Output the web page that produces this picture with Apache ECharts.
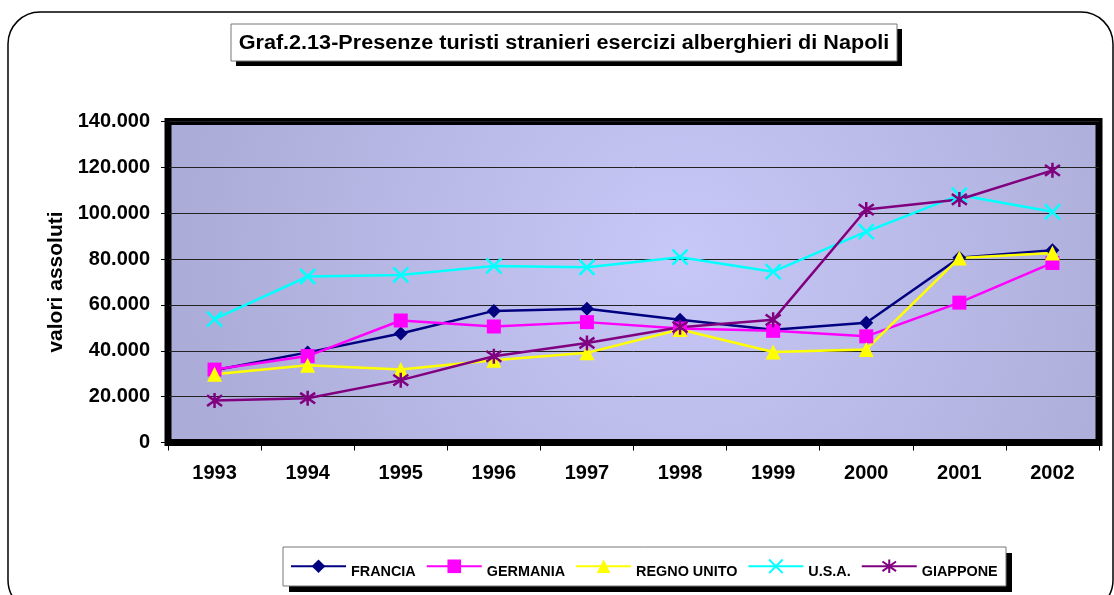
<!DOCTYPE html>
<html>
<head>
<meta charset="utf-8">
<title>Graf.2.13</title>
<script src="https://cdn.jsdelivr.net/npm/echarts@6/dist/echarts.min.js"></script>
<style>
  html, body { margin: 0; padding: 0; background: #fff; }
  #chart { width: 1114px; height: 595px; }
</style>
</head>
<body>
<div id="chart"></div>
<script>
// anni
const years = ['1993', '1994', '1995', '1996', '1997', '1998', '1999', '2000', '2001', '2002'];

// presenze per paese
const francia = [31500, 39300, 47500, 57400, 58300, 53500, 49200, 52200, 80600, 83800];
const germania = [31800, 37700, 53200, 50600, 52500, 49700, 48700, 46300, 61000, 78300];
const regnoUnito = [29800, 33700, 31800, 35900, 39100, 49300, 39500, 40600, 80500, 82700];
const usa = [53800, 72400, 73100, 77000, 76400, 80800, 74500, 92000, 107900, 100600];
const giappone = [18300, 19300, 27200, 37600, 43400, 50300, 53500, 101600, 106000, 118700];

const yTicks = [0, 20000, 40000, 60000, 80000, 100000, 120000, 140000];

const FONT = 'Liberation Sans, Arial, sans-serif';

// simboli: X e asterisco disegnati a tratto
const symX = 'path://M0,0 L14,14 M14,0 L0,14';
const symStar = 'path://M7,0 L7,14 M1,2 L13,12 M13,2 L1,12';

function makeSeries(name, data, color, symbol, size, stroke) {
  return {
    name: name,
    type: 'line',
    data: data,
    symbol: symbol,
    symbolSize: size,
    showAllSymbol: true,
    lineStyle: { color: color, width: 2.5 },
    itemStyle: {
      color: color,
      borderColor: color,
      borderWidth: stroke ? 2.5 : 0
    },
    emphasis: { disabled: true },
    animation: false
  };
}

const chart = echarts.init(document.getElementById('chart'));

chart.setOption({
  backgroundColor: '#ffffff',
  animation: false,
  graphic: [
    // cornice esterna arrotondata
    {
      type: 'rect', z: 100,
      shape: { x: 8, y: 12, width: 1105, height: 600, r: 32 },
      style: { fill: 'none', stroke: '#000', lineWidth: 1.5 }
    },
    // box titolo con ombra
    { type: 'rect', z: 1, shape: { x: 236, y: 29, width: 666, height: 37 }, style: { fill: '#000' } },
    { type: 'rect', z: 2, shape: { x: 231, y: 24, width: 666, height: 37 }, style: { fill: '#fff', stroke: '#777', lineWidth: 1 } },
    // titolo
    {
      type: 'text', z: 3,
      x: 564, y: 43,
      scaleX: 1.08,
      style: {
        text: 'Graf.2.13-Presenze turisti stranieri esercizi alberghieri di Napoli',
        fill: '#000',
        font: 'bold 20px ' + FONT,
        align: 'center',
        verticalAlign: 'middle'
      }
    },
    // box legenda con ombra
    { type: 'rect', z: 1, shape: { x: 289, y: 553, width: 723, height: 39 }, style: { fill: '#000' } },
    { type: 'rect', z: 2, shape: { x: 283, y: 547, width: 723, height: 39 }, style: { fill: '#fff', stroke: '#777', lineWidth: 1 } }
  ],
  legend: {
    left: 290,
    top: 558.5,
    padding: 0,
    itemWidth: 55,
    itemHeight: 17,
    itemGap: 10,
    selectedMode: false,
    formatter: '{t|{name}}',
    textStyle: {
      color: '#000', fontSize: 14.4, fontWeight: 'bold', fontFamily: FONT,
      rich: {
        t: { color: '#000', fontSize: 14.4, fontWeight: 'bold', fontFamily: FONT, padding: [12, 0, 0, 0] }
      }
    },
    data: ['FRANCIA', 'GERMANIA', 'REGNO UNITO', 'U.S.A.', 'GIAPPONE']
  },
  grid: {
    left: 168,
    right: 15,
    top: 121.5,
    bottom: 152.5,
    show: true,
    borderColor: '#000',
    borderWidth: 7,
    backgroundColor: {
      type: 'radial',
      x: 0.55, y: 0.42, r: 1.5,
      colorStops: [
        { offset: 0, color: '#c8c8f8' },
        { offset: 1, color: '#acacd8' }
      ]
    }
  },
  xAxis: {
    type: 'category',
    data: years,
    boundaryGap: true,
    axisLine: { show: true, lineStyle: { color: '#000', width: 1 } },
    axisTick: { show: true, length: 8, lineStyle: { color: '#000' } },
    axisLabel: { color: '#000', fontSize: 20, fontWeight: 'bold', fontFamily: FONT, margin: 21 },
    splitLine: { show: false }
  },
  yAxis: {
    type: 'value',
    min: 0,
    max: 140000,
    interval: 20000,
    name: 'valori assoluti',
    nameLocation: 'middle',
    nameGap: 100,
    nameTextStyle: { color: '#000', fontSize: 21, fontWeight: 'bold', fontFamily: FONT },
    axisLine: { show: true, lineStyle: { color: '#000', width: 1 } },
    axisTick: { show: true, length: 7, lineStyle: { color: '#000' } },
    axisLabel: {
      color: '#000', fontSize: 20, fontWeight: 'bold', fontFamily: FONT, margin: 18,
      formatter: function (v) {
        return yTicks.indexOf(v) >= 0 ? String(v).replace(/\B(?=(\d{3})+(?!\d))/g, '.') : '';
      }
    },
    splitLine: { show: true, lineStyle: { color: '#222', width: 1 } }
  },
  series: [
    makeSeries('FRANCIA', francia, '#000080', 'diamond', 14, false),
    makeSeries('GERMANIA', germania, '#ff00ff', 'rect', 14, false),
    makeSeries('REGNO UNITO', regnoUnito, '#ffff00', 'triangle', 15, false),
    makeSeries('U.S.A.', usa, '#00ffff', symX, 15, true),
    makeSeries('GIAPPONE', giappone, '#800080', symStar, 15, true)
  ]
});
</script>
</body>
</html>
